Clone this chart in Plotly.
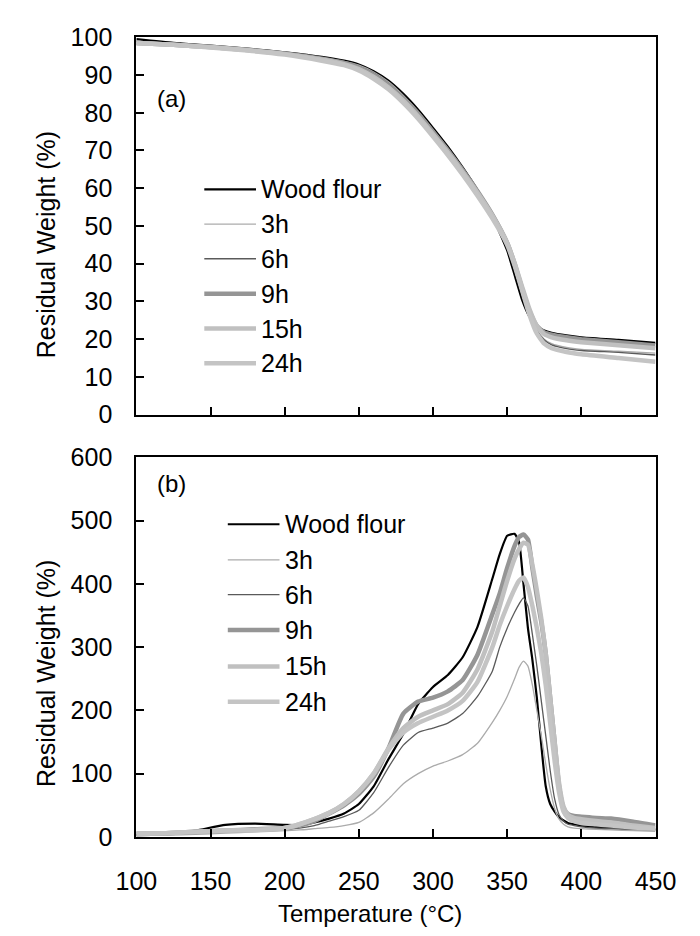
import plotly.graph_objects as go

# ---------------- data ----------------
series_names = ["Wood flour", "3h", "6h", "9h", "15h", "24h"]

# (a) TG curves
temp_tg = [100, 125, 150, 175, 200, 225, 240, 250, 260, 270, 280, 290, 300, 310,
           320, 330, 340, 350, 355, 360, 365, 370, 375, 380, 390, 400, 425, 450]
tg_wood = [99.5, 98.5, 97.8, 97.0, 96.0, 94.8, 93.8, 92.8, 91.0, 88.5, 85.0, 80.8, 76.0, 71.0,
           65.5, 59.5, 52.5, 43.5, 37.0, 30.5, 26.0, 23.5, 22.3, 21.7, 21.0, 20.5, 19.8, 19.0]
tg_3h = [99.0, 98.3, 97.6, 96.8, 95.8, 94.6, 93.6, 92.6, 90.8, 88.2, 84.6, 80.4, 75.6, 70.6,
         65.2, 59.5, 53.0, 45.0, 39.5, 33.0, 27.0, 22.5, 20.0, 18.8, 17.8, 17.3, 16.8, 16.3]
tg_6h = [99.0, 98.2, 97.5, 96.7, 95.7, 94.4, 93.4, 92.3, 90.5, 87.8, 84.2, 80.0, 75.2, 70.3,
         65.0, 59.3, 52.8, 45.0, 39.5, 33.0, 27.0, 22.3, 19.8, 18.5, 17.5, 17.0, 16.5, 15.8]
tg_9h = [98.5, 98.0, 97.4, 96.6, 95.7, 94.3, 93.2, 92.0, 90.0, 87.3, 83.8, 79.6, 74.9, 70.0,
         64.8, 59.2, 53.0, 45.5, 40.0, 33.5, 27.5, 23.5, 21.8, 21.2, 20.5, 20.0, 19.2, 18.3]
tg_15h = [98.5, 98.0, 97.4, 96.6, 95.6, 94.1, 92.9, 91.6, 89.5, 86.7, 83.2, 79.0, 74.3, 69.5,
          64.3, 58.8, 52.8, 45.5, 40.2, 34.0, 28.0, 23.5, 21.3, 20.5, 19.7, 19.2, 18.4, 17.6]
tg_24h = [98.5, 98.0, 97.3, 96.5, 95.4, 93.8, 92.6, 91.2, 89.0, 86.2, 82.6, 78.4, 73.7, 68.8,
          63.6, 58.0, 52.0, 45.0, 39.5, 33.0, 26.5, 21.5, 18.8, 17.6, 16.6, 16.0, 15.0, 14.0]

# (b) derivative curves
temp_dtg = [100, 120, 140, 160, 180, 200, 210, 220, 230, 240, 250, 260, 270, 280, 290, 300,
            310, 320, 330, 340, 345, 350, 355, 358, 361, 364, 367, 370, 373, 376, 379, 382,
            385, 388, 391, 395, 400, 410, 420, 435, 450]
dtg_wood = [3, 4, 10, 19, 21, 19, 19, 23, 29, 37, 52, 80, 123, 163, 210, 237,
            256, 284, 332, 408, 447, 476, 479, 466, 400, 330, 280, 220, 145, 80, 52, 40,
            31, 26, 22, 20, 18, 16, 15, 13, 12]
dtg_3h = [2, 3, 4, 6, 8, 10, 11, 13, 15, 18, 23, 38, 60, 84, 100, 112,
          120, 130, 148, 181, 200, 222, 250, 268, 278, 270, 240, 200, 160, 115, 75, 45,
          28, 20, 16, 14, 13, 12, 11, 10, 9]
dtg_6h = [3, 4, 6, 8, 10, 12, 14, 18, 25, 32, 42, 70, 110, 145, 165, 172,
          180, 195, 222, 262, 300, 330, 355, 368, 378, 365, 320, 270, 215, 160, 105, 60,
          35, 25, 20, 18, 16, 14, 13, 12, 11]
dtg_9h = [5, 6, 8, 10, 12, 14, 18, 25, 37, 50, 68, 95, 140, 195, 214, 220,
          230, 248, 288, 352, 385, 425, 460, 474, 478, 470, 425, 380, 340, 290, 220, 150,
          80, 45, 36, 33, 32, 30, 29, 24, 18]
dtg_15h = [5, 6, 8, 10, 11, 14, 20, 28, 38, 52, 72, 100, 140, 172, 190, 200,
           210, 228, 265, 325, 365, 405, 440, 455, 465, 462, 430, 390, 345, 290, 220, 150,
           85, 48, 35, 30, 28, 25, 23, 18, 14]
dtg_24h = [5, 6, 8, 10, 11, 14, 20, 28, 38, 52, 72, 100, 138, 165, 180, 190,
           200, 215, 245, 300, 335, 365, 392, 405, 410, 395, 365, 330, 290, 240, 180, 120,
           70, 40, 30, 25, 22, 20, 18, 15, 13]

x_ticks = [100, 150, 200, 250, 300, 350, 400, 450]
y_ticks_a = [0, 10, 20, 30, 40, 50, 60, 70, 80, 90, 100]
y_ticks_b = [0, 100, 200, 300, 400, 500, 600]

x_title = "Temperature (°C)"
y_title = "Residual Weight (%)"
panel_labels = ["(a)", "(b)"]

# ---------------- style ----------------
W, H = 700, 936
FONT = "Liberation Sans, Arial, sans-serif"
FS = 25
styles = [
    dict(color="#000000", width=2.2),
    dict(color="#ababab", width=1.3),
    dict(color="#5a5a5a", width=1.3),
    dict(color="#959595", width=4.5),
    dict(color="#c0c0c0", width=4.5),
    dict(color="#c4c4c4", width=4.5),
]

tg_series = [tg_wood, tg_3h, tg_6h, tg_9h, tg_15h, tg_24h]
dtg_series = [dtg_wood, dtg_3h, dtg_6h, dtg_9h, dtg_15h, dtg_24h]

fig = go.Figure()
for name, vals, st in zip(series_names, tg_series, styles):
    fig.add_trace(go.Scatter(x=temp_tg, y=vals, mode="lines", name=name,
                             line=dict(color=st["color"], width=st["width"], shape="spline", smoothing=0.5),
                             xaxis="x", yaxis="y", showlegend=False))
for name, vals, st in zip(series_names, dtg_series, styles):
    fig.add_trace(go.Scatter(x=temp_dtg, y=vals, mode="lines", name=name,
                             line=dict(color=st["color"], width=st["width"], shape="spline", smoothing=0.5),
                             xaxis="x2", yaxis="y2", showlegend=False))


def px_x(p):
    return p / W


def px_y(p):
    return 1 - p / H


axis_common = dict(showline=True, linecolor="black", linewidth=2, mirror=True,
                   ticks="inside", ticklen=8, tickwidth=1.5, tickcolor="black",
                   showgrid=False, zeroline=False,
                   tickfont=dict(family=FONT, size=FS, color="black"))

xdom = [px_x(122.7), px_x(675)]
fig.update_layout(
    width=W, height=H,
    margin=dict(l=0, r=0, t=0, b=0),
    paper_bgcolor="white", plot_bgcolor="white",
    font=dict(family=FONT, size=FS, color="black"),
    showlegend=False,
    xaxis=dict(domain=xdom, range=[100, 450], tickvals=x_ticks, showticklabels=False,
               anchor="y", **axis_common),
    yaxis=dict(domain=[px_y(413), px_y(24)], range=[0, 100], tickvals=y_ticks_a,
               anchor="x", ticklabelstandoff=17, **axis_common),
    xaxis2=dict(domain=xdom, range=[100, 450], tickvals=x_ticks, anchor="y2",
                ticklabelstandoff=21, **axis_common),
    yaxis2=dict(domain=[px_y(848.3), px_y(457)], range=[0, 600], tickvals=y_ticks_b,
                anchor="x2", ticklabelstandoff=17, **axis_common),
)

# axis titles
fig.add_annotation(text=x_title, x=px_x(371), y=px_y(927), xref="paper", yref="paper",
                   xanchor="center", yanchor="middle", showarrow=False, borderpad=0,
                   font=dict(family=FONT, size=24, color="black"))
for cy in (238, 680):
    fig.add_annotation(text=y_title, x=px_x(26), y=px_y(cy), xref="paper", yref="paper",
                       xanchor="center", yanchor="middle", textangle=-90, showarrow=False,
                       font=dict(family=FONT, size=FS, color="black"))

# panel labels
for lab, cy in zip(panel_labels, (87, 484)):
    fig.add_annotation(text=lab, x=px_x(143), y=px_y(cy), xref="paper", yref="paper",
                       xanchor="left", yanchor="middle", showarrow=False,
                       font=dict(family=FONT, size=24, color="black"))

# legends (line sample + label) for both panels
legend_specs = [
    dict(x0=195, x1=250, tx=253, rows=[180.7, 216.7, 252.3, 288.3, 324.2, 360.0]),
    dict(x0=220, x1=275, tx=279, rows=[526, 562.7, 598.5, 635, 672.5, 709]),
]
for spec in legend_specs:
    for name, st, ry in zip(series_names, styles, spec["rows"]):
        fig.add_shape(type="line", xref="paper", yref="paper",
                      x0=px_x(spec["x0"]), x1=px_x(spec["x1"]), y0=px_y(ry), y1=px_y(ry),
                      line=dict(color=st["color"], width=st["width"]))
        fig.add_annotation(text=name, x=px_x(spec["tx"]), y=px_y(ry), xref="paper", yref="paper",
                           xanchor="left", yanchor="middle", showarrow=False,
                           font=dict(family=FONT, size=FS, color="black"))

fig.write_html("out.html")
